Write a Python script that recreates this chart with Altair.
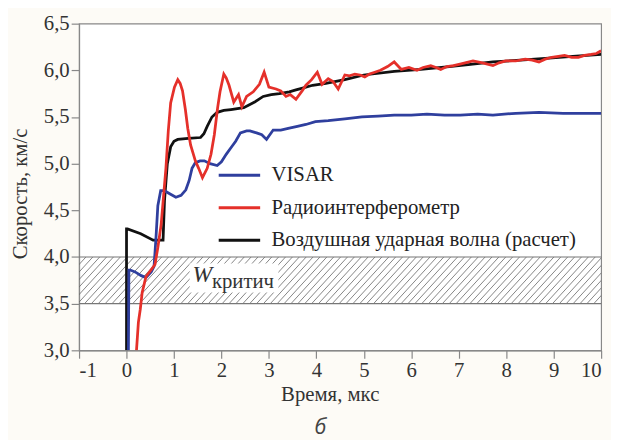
import altair as alt
import pandas as pd
import numpy as np

# ---- data ----
visar_t = [0.04, 0.05, 0.08, 0.18, 0.31, 0.41, 0.52, 0.58, 0.62, 0.66, 0.72, 0.8, 0.9, 1.04, 1.15,
           1.25, 1.32, 1.38, 1.45, 1.55, 1.64, 1.76, 1.91, 2.0, 2.1, 2.2, 2.3, 2.4, 2.53, 2.6, 2.74,
           2.85, 2.95, 3.09, 3.25, 3.43, 3.6, 3.78, 3.98, 4.25, 4.6, 4.96, 5.3, 5.64, 6.0, 6.33,
           6.7, 7.03, 7.4, 7.72, 8.2, 8.69, 9.2, 9.6, 10.0]
visar_v = [3.0, 3.86, 3.86, 3.84, 3.8, 3.78, 3.84, 3.9, 4.2, 4.55, 4.71, 4.71, 4.68, 4.64, 4.66,
           4.72, 4.82, 4.95, 5.01, 5.03, 5.03, 5.0, 4.98, 5.02, 5.1, 5.17, 5.24, 5.33, 5.35, 5.35, 5.33,
           5.31, 5.26, 5.36, 5.36, 5.38, 5.4, 5.42, 5.45, 5.46, 5.48, 5.5, 5.51, 5.52, 5.52, 5.53,
           5.52, 5.52, 5.53, 5.52, 5.54, 5.55, 5.54, 5.54, 5.54]

radio_t = [0.21, 0.25, 0.29, 0.33, 0.41, 0.5, 0.6, 0.66, 0.73, 0.78, 0.83, 0.88, 0.93, 1.01, 1.08,
           1.13, 1.18, 1.24, 1.29, 1.35, 1.45, 1.52, 1.6, 1.7, 1.78, 1.85, 1.92, 1.97, 2.05, 2.1,
           2.16, 2.26, 2.36, 2.43, 2.53, 2.67, 2.8, 2.9, 3.0, 3.15, 3.25, 3.36, 3.45, 3.57, 3.7,
           3.78, 3.9, 4.02, 4.12, 4.25, 4.35, 4.46, 4.6, 4.7, 4.81, 4.92, 5.02, 5.12, 5.23, 5.35,
           5.5, 5.64, 5.79, 5.95, 6.12, 6.25, 6.41, 6.52, 6.62, 6.75, 6.89, 7.05, 7.3, 7.5, 7.72,
           7.85, 7.99, 8.2, 8.4, 8.55, 8.69, 8.82, 8.96, 9.1, 9.23, 9.38, 9.52, 9.65, 9.79, 9.9, 10.0]
radio_v = [3.0, 3.3, 3.44, 3.62, 3.79, 3.85, 3.92, 4.1, 4.35, 4.65, 4.95, 5.35, 5.65, 5.82, 5.9,
           5.86, 5.78, 5.58, 5.38, 5.2, 5.03, 4.95, 4.85, 4.95, 5.1, 5.31, 5.6, 5.77, 5.96, 5.92,
           5.84, 5.66, 5.74, 5.61, 5.72, 5.77, 5.85, 5.98, 5.82, 5.8, 5.78, 5.72, 5.74, 5.69, 5.78,
           5.84, 5.9, 5.98, 5.85, 5.91, 5.88, 5.8, 5.95, 5.94, 5.96, 5.95, 5.93, 5.96, 5.98, 6.0,
           6.04, 6.09, 6.01, 6.03, 6.0, 6.03, 6.05, 6.03, 6.01, 6.04, 6.05, 6.07, 6.1, 6.08, 6.05,
           6.08, 6.1, 6.1, 6.12, 6.11, 6.09, 6.12, 6.14, 6.15, 6.16, 6.14, 6.14, 6.16, 6.17, 6.18, 6.21]

wave_t = [0.0, 0.0, 0.02, 0.3, 0.56, 0.77, 0.8, 0.86, 0.93, 1.0, 1.08, 1.3, 1.56, 1.63, 1.7, 1.8,
          1.91, 2.05, 2.2, 2.47, 2.7, 2.88, 3.05, 3.22, 3.43, 3.57, 3.71, 3.92, 4.2, 4.6, 5.0,
          5.64, 6.2, 6.8, 7.2, 7.72, 8.3, 8.9, 9.4, 10.0]
wave_v = [3.0, 4.3, 4.3, 4.25, 4.18, 4.18, 4.6, 5.0, 5.18, 5.24, 5.26, 5.27, 5.28, 5.32, 5.4, 5.5,
          5.55, 5.57, 5.58, 5.6, 5.66, 5.72, 5.74, 5.75, 5.77, 5.79, 5.81, 5.84, 5.86, 5.9, 5.95,
          5.99, 6.01, 6.04, 6.06, 6.09, 6.11, 6.13, 6.15, 6.17]

series_names = ["VISAR", "Радиоинтерферометр", "Воздушная ударная волна (расчет)"]
series_colors = ["#2f3f9e", "#e5302a", "#111111"]

band_low, band_high = 3.5, 4.0
label_box_t = [1.33, 3.2]
label_box_v = [3.62, 3.93]

FONT = "Liberation Serif"

frames = []
for name, t, v in [(series_names[0], visar_t, visar_v),
                   (series_names[1], radio_t, radio_v),
                   (series_names[2], wave_t, wave_v)]:
    frames.append(pd.DataFrame({"t": t, "v": v, "series": name, "order": range(len(t))}))
df = pd.concat(frames, ignore_index=True)

xscale = alt.Scale(domain=[-1, 10], nice=False, zero=False)
yscale = alt.Scale(domain=[3.0, 6.5], nice=False, zero=False)
cscale = alt.Scale(domain=series_names, range=series_colors)

xaxis = alt.Axis(values=[i / 2 for i in range(-2, 21)],
                 labelExpr="datum.value % 1 === 0 ? toString(datum.value) : ''",
                 tickSize={"condition": {"test": "datum.value % 1 === 0", "value": 8}, "value": 4},
                 grid=False, title="Время, мкс", titleX=254, titleY=51,
                 titleBaseline="alphabetic", labelPadding=2)
yaxis = alt.Axis(values=[3 + i * 0.25 for i in range(15)],
                 labelExpr="(datum.value*2) % 1 === 0 ? replace(format(datum.value, '.1f'), '.', ',') : ''",
                 tickSize={"condition": {"test": "(datum.value*2) % 1 === 0", "value": 8}, "value": 4},
                 grid=False, title="Скорость, км/с", titleX=-59, titleY=172,
                 titleAngle=270, titleAlign="center", titleBaseline="middle", labelPadding=2)

# hatch band
offs = np.arange(-1.9, 10.0, 0.145)
hatch = pd.DataFrame({"x0": offs, "x1": offs + 0.9, "y0": band_low, "y1": band_high})
hatch_layer = alt.Chart(hatch).mark_rule(color="#666666", strokeWidth=0.8, clip=True).encode(
    x=alt.X("x0:Q", scale=xscale, axis=xaxis), x2="x1:Q",
    y=alt.Y("y0:Q", scale=yscale, axis=yaxis), y2="y1:Q")

band_lines = alt.Chart(pd.DataFrame({"y": [band_low, band_high]})).mark_rule(
    color="#777777", strokeWidth=1.2).encode(y=alt.Y("y:Q", scale=yscale))

box = alt.Chart(pd.DataFrame({"a": [label_box_t[0]], "b": [label_box_t[1]],
                              "c": [label_box_v[0]], "d": [label_box_v[1]]})).mark_rect(
    color="white").encode(x=alt.X("a:Q", scale=xscale), x2="b:Q",
                          y=alt.Y("c:Q", scale=yscale), y2="d:Q")

w_text = alt.Chart(pd.DataFrame({"t": [1.39], "v": [3.73], "s": ["W"]})).mark_text(
    font=FONT, fontSize=24, fontStyle="italic", align="left", baseline="alphabetic",
    color="#333333").encode(x=alt.X("t:Q", scale=xscale), y=alt.Y("v:Q", scale=yscale), text="s:N")
k_text = alt.Chart(pd.DataFrame({"t": [1.80], "v": [3.665], "s": ["критич"]})).mark_text(
    font=FONT, fontSize=21, align="left", baseline="alphabetic",
    color="#333333").encode(x=alt.X("t:Q", scale=xscale), y=alt.Y("v:Q", scale=yscale), text="s:N")

def line(name):
    return alt.Chart(df[df.series == name]).mark_line(strokeWidth=2.8, clip=True).encode(
        x=alt.X("t:Q", scale=xscale), y=alt.Y("v:Q", scale=yscale),
        color=alt.Color("series:N", scale=cscale,
                        legend=alt.Legend(title=None, orient="none", legendX=140, legendY=131,
                                          symbolType="stroke", symbolSize=1764,
                                          symbolStrokeWidth=3, labelFont=FONT, labelFontSize=21,
                                          labelColor="#222222", labelOffset=10, rowPadding=-12.5,
                                          padding=0, labelLimit=400)),
        order="order:Q")

chart = alt.layer(
    hatch_layer, band_lines, box, w_text, k_text,
    line(series_names[2]), line(series_names[0]), line(series_names[1])
).properties(
    width=529, height=331,
    autosize=alt.AutoSizeParams(type="none"),
    padding={"left": 72, "top": 13, "right": 10, "bottom": 88},
    background="#fdfbf6",
    title=alt.TitleParams("б", orient="bottom", anchor="middle", dx=-20, offset=13,
                          font="Open Sans", fontSize=22, fontStyle="italic",
                          fontWeight="normal", color="#444444"),
).configure_view(fill="white", stroke="#888888", strokeWidth=1.2).configure_axis(
    domainColor="#888888", tickColor="#888888", domainWidth=1.2, tickWidth=1.2,
    labelFont=FONT, titleFont=FONT, labelFontSize=21, titleFontSize=21,
    labelColor="#333333", titleFontWeight="normal", titleColor="#333333")

chart.save("out.html", embed_options={"renderer": "svg", "actions": False})
